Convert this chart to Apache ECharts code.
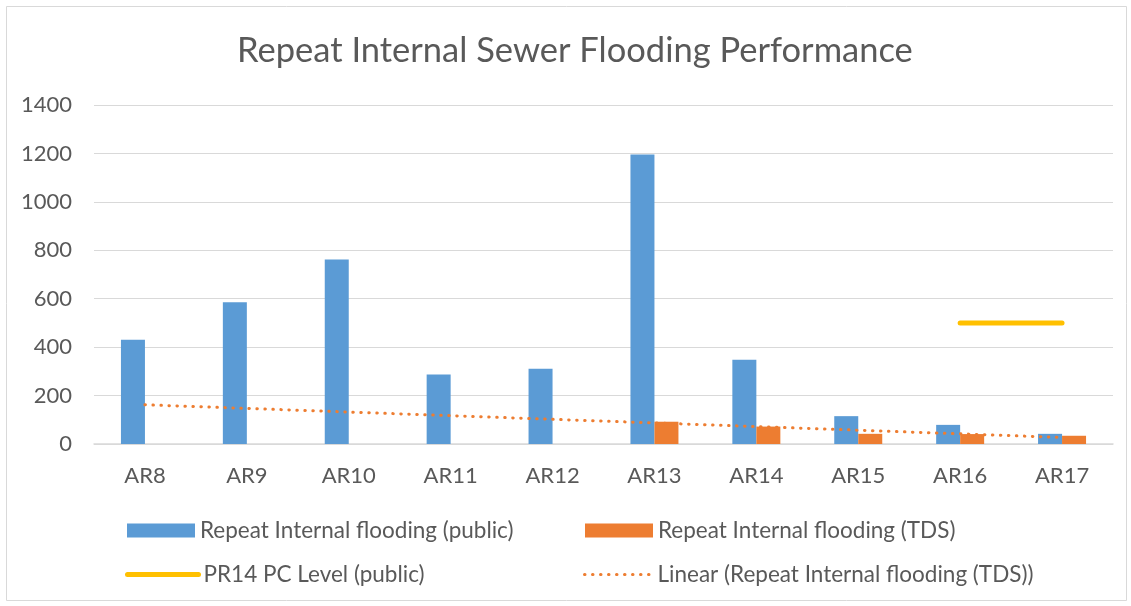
<!DOCTYPE html>
<html>
<head>
<meta charset="utf-8">
<script src="https://cdn.jsdelivr.net/npm/echarts@6/dist/echarts.min.js"></script>
<style>
  html, body { margin: 0; padding: 0; background: #fff; }
  #chart { width: 1131px; height: 606px; }
</style>
</head>
<body>
<div id="chart"></div>
<script>
const categories = ["AR8", "AR9", "AR10", "AR11", "AR12", "AR13", "AR14", "AR15", "AR16", "AR17"];
const publicValues = [431, 585, 762, 287, 311, 1196, 348, 115, 79, 42];
const tdsValues = [null, null, null, null, null, 92, 72, 42, 41, 34];
const pcLevel = [null, null, null, null, null, null, null, null, 500, 500];
const tdsTrend = [162, 147, 132, 117, 102, 87, 72, 57, 42, 27];
const yTicks = { min: 0, max: 1400, interval: 200 };

const textColor = "#595959";
const font = "Lato, 'Open Sans', sans-serif";

const chart = echarts.init(document.getElementById("chart"));

// one legend per entry so each sits where Excel put it
const legendBase = {
  padding: 0,
  itemGap: 0,
  textStyle: { color: textColor, fontSize: 22.5, fontFamily: font },
  itemWidth: 68,
  itemHeight: 14,
  selectedMode: false,
};

const option = {
  backgroundColor: "#ffffff",
  animation: false,
  title: {
    text: "Repeat Internal Sewer Flooding Performance",
    left: 237,
    top: 33,
    padding: 0,
    textStyle: { color: textColor, fontSize: 34.5, fontWeight: "normal", fontFamily: font },
  },
  graphic: [
    {
      type: "rect",
      shape: { x: 6.5, y: 6.5, width: 1120, height: 594 },
      style: { fill: "none", stroke: "#d9d9d9", lineWidth: 1 },
      silent: true,
    },
  ],
  legend: [
    Object.assign({}, legendBase, {
      left: 127, top: 519, icon: "rect",
      data: ["Repeat Internal flooding (public)"],
    }),
    Object.assign({}, legendBase, {
      left: 585, top: 519, icon: "rect",
      data: ["Repeat Internal flooding (TDS)"],
    }),
    Object.assign({}, legendBase, {
      left: 125, top: 563,
      itemWidth: 71,
      itemStyle: { opacity: 0 },
      lineStyle: { width: 5, cap: "round" },
      data: ["PR14 PC Level (public)"],
    }),
    Object.assign({}, legendBase, {
      left: 583, top: 563,
      itemStyle: { opacity: 0 },
      lineStyle: { width: 3, type: [0.5, 7.5], cap: "round" },
      data: ["Linear (Repeat Internal flooding (TDS))"],
    }),
  ],
  grid: { left: 94, right: 18, top: 105, bottom: 162, containLabel: false },
  xAxis: {
    type: "category",
    data: categories,
    axisLine: { lineStyle: { color: "#d9d9d9", width: 1.5 } },
    axisTick: { show: false },
    axisLabel: { color: textColor, fontSize: 22, fontFamily: font, margin: 21 },
  },
  yAxis: {
    type: "value",
    min: yTicks.min,
    max: yTicks.max,
    interval: yTicks.interval,
    axisLine: { show: false },
    axisTick: { show: false },
    axisLabel: {
      color: textColor, fontSize: 22, fontFamily: font, margin: 22,
      formatter: (v) => String(v),
    },
    splitLine: { lineStyle: { color: "#d9d9d9", width: 1.2 } },
  },
  series: [
    {
      name: "Repeat Internal flooding (public)",
      type: "bar",
      data: publicValues,
      barWidth: 24,
      barGap: "0%",
      itemStyle: { color: "#5B9BD5" },
    },
    {
      name: "Repeat Internal flooding (TDS)",
      type: "bar",
      data: tdsValues,
      barWidth: 24,
      barGap: "0%",
      itemStyle: { color: "#ED7D31" },
    },
    {
      name: "PR14 PC Level (public)",
      type: "line",
      data: pcLevel,
      symbol: "none",
      lineStyle: { color: "#FFC000", width: 5, cap: "round" },
      itemStyle: { color: "#FFC000" },
      z: 4,
    },
    {
      name: "Linear (Repeat Internal flooding (TDS))",
      type: "line",
      data: tdsTrend,
      symbol: "none",
      lineStyle: { color: "#ED7D31", width: 3, type: [0.5, 7.5], cap: "round" },
      itemStyle: { color: "#ED7D31" },
      z: 5,
    },
  ],
};

chart.setOption(option);
window.addEventListener("resize", () => chart.resize());
</script>
</body>
</html>
